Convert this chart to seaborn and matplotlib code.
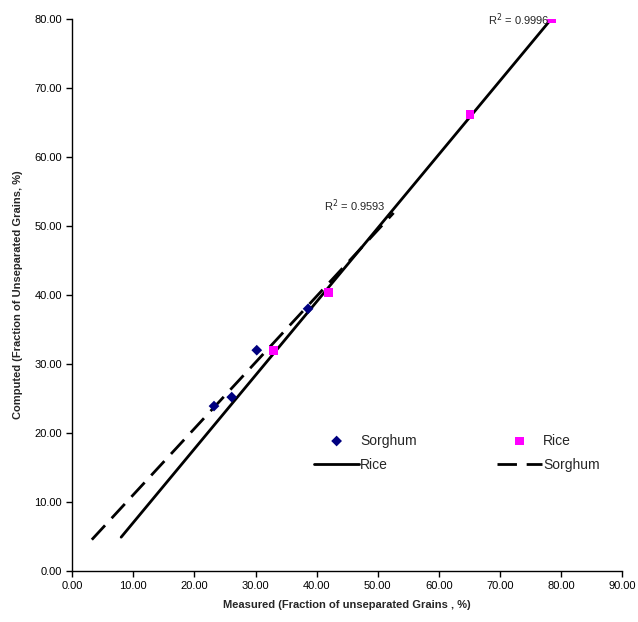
import numpy as np
import pandas as pd
import matplotlib
matplotlib.use("Agg")
import matplotlib.pyplot as plt
import seaborn as sns

# dados
sorghum_measured = [23.2, 26.1, 30.2, 38.6]
sorghum_computed = [23.9, 25.2, 32.0, 38.0]
rice_measured = [33.0, 41.9, 65.1, 78.5]
rice_computed = [32.0, 40.4, 66.1, 80.0]

# extensao das linhas de tendencia (backward / forward)
rice_backward, rice_forward = 25.0, 0.0
sorghum_backward, sorghum_forward = 20.0, 14.0

sns.set_style("ticks")
plt.rcParams["font.family"] = ["Liberation Sans", "DejaVu Sans"]

df_s = pd.DataFrame({"Measured": sorghum_measured, "Computed": sorghum_computed})
df_r = pd.DataFrame({"Measured": rice_measured, "Computed": rice_computed})


def trend(x, y, back, fwd):
    slope, inter = np.polyfit(x, y, 1)
    xs = np.array([min(x) - back, max(x) + fwd])
    return pd.DataFrame({"Measured": xs, "Computed": slope * xs + inter})


rice_line = trend(rice_measured, rice_computed, rice_backward, rice_forward)
sorg_line = trend(sorghum_measured, sorghum_computed, sorghum_backward, sorghum_forward)

fig = plt.figure(figsize=(6.38, 6.22), dpi=100)
ax = fig.add_axes([0.1133, 0.082, 0.8617, 0.8875])

sns.scatterplot(data=df_s, x="Measured", y="Computed", marker="D", color="#000080",
                s=30, edgecolor="none", label="Sorghum", ax=ax, zorder=3)
sns.lineplot(data=rice_line, x="Measured", y="Computed", color="black", linewidth=2.0,
             label="Rice", ax=ax, zorder=2)
sns.scatterplot(data=df_r, x="Measured", y="Computed", marker="s", color="#FF00FF",
                s=40, edgecolor="none", label="Rice", ax=ax, zorder=3)
sns.lineplot(data=sorg_line, x="Measured", y="Computed", color="black", linewidth=2.0,
             label="Sorghum", ax=ax, zorder=2)
ax.lines[-1].set_dashes([7, 3.5])

# R2 das linhas de tendencia
ax.text(78.2, 79.9, "R$^2$ = 0.9996", ha="right", va="center", fontsize=8)
ax.text(51.2, 53.0, "R$^2$ = 0.9593", ha="right", va="center", fontsize=8)

ax.set_xlim(0, 90)
ax.set_ylim(0, 80)
ax.set_xticks(np.arange(0, 91, 10))
ax.set_yticks(np.arange(0, 81, 10))
ax.xaxis.set_major_formatter(matplotlib.ticker.FormatStrFormatter("%.2f"))
ax.yaxis.set_major_formatter(matplotlib.ticker.FormatStrFormatter("%.2f"))
ax.tick_params(labelsize=8, length=4, width=1, colors="black", direction="out")
for s in ["top", "right"]:
    ax.spines[s].set_visible(False)
for s in ["left", "bottom"]:
    ax.spines[s].set_color("black")
    ax.spines[s].set_linewidth(1)

ax.set_xlabel("Measured (Fraction of unseparated Grains , %)", fontsize=8, fontweight="bold", labelpad=6)
ax.set_ylabel("Computed (Fraction of Unseparated Grains, %)", fontsize=8, fontweight="bold", labelpad=8)

h, l = ax.get_legend_handles_labels()
ax.legend(h, l, ncol=2, frameon=False,
          fontsize=10, handlelength=3.2, handletextpad=0.1, columnspacing=5.8,
          labelspacing=0.75, loc="center", bbox_to_anchor=(0.70, 0.214))

fig.savefig("out.png", dpi=100)
